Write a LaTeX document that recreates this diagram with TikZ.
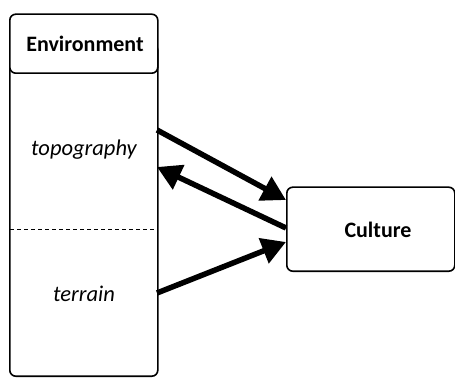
\documentclass[tikz,border=0pt]{standalone}
\usepackage{fontspec}
\setmainfont{Carlito}
\usetikzlibrary{arrows.meta}
\begin{document}
\begin{tikzpicture}[x=1pt,y=1pt,
  box/.style={draw, line width=1.6pt, rounded corners=6pt, inner sep=0pt},
  lbl/.style={font=\fontsize{22.5}{26}\selectfont\itshape},
  bold/.style={font=\fontsize{22}{26}\selectfont\bfseries},
  flow/.style={line width=5.5pt, -{Triangle[length=24pt,width=26pt]}}]
\useasboundingbox (0,0) rectangle (455,378);
% environment body and header
\node[box, minimum width=148pt, minimum height=332pt, anchor=south west] (body) at (9,1) {};
\node[box, fill=white, minimum width=148pt, minimum height=59pt, anchor=south west] (head) at (9,304) {};
\node[bold] (envt) at (85,334) {Environment};
\coordinate (dl) at (10,149);
\coordinate (dr) at (157,149);
\draw[line width=0.8pt, dash pattern=on 4pt off 3pt] (dl) -- (dr);
\node[lbl] (topo) at (84,228) {topography};
\node[lbl] (terr) at (84,84) {terrain};
% culture
\node[box, minimum width=168pt, minimum height=84pt, anchor=south west] (cult) at (286,106) {};
\node[bold] (cultt) at (378,148) {Culture};
% arrow endpoints
\coordinate (a1s) at (157,248);
\coordinate (a1e) at (286,178);
\coordinate (a2s) at (286,150);
\coordinate (a2e) at (157,211);
\coordinate (a3s) at (157,85);
\coordinate (a3e) at (286,136);
\draw[flow] (a1s) -- (a1e);
\draw[flow] (a2s) -- (a2e);
\draw[flow] (a3s) -- (a3e);
\end{tikzpicture}
\end{document}
